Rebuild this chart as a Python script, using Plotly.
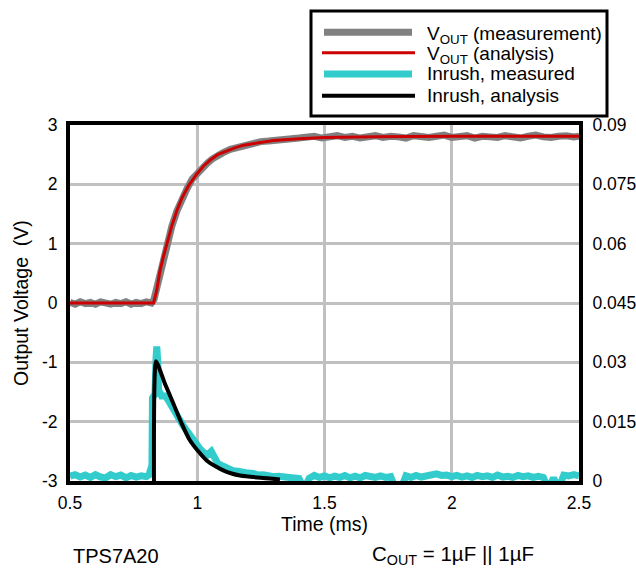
import plotly.graph_objects as go

# ---------------- data ----------------
# Output voltage, measurement (V) vs time (ms)
t_vmeas = [0.50, 0.52, 0.54, 0.56, 0.58, 0.60, 0.62, 0.64, 0.66, 0.68, 0.70, 0.72, 0.74, 0.76, 0.78, 0.80, 0.82,
           0.83, 0.84, 0.85, 0.86, 0.87, 0.88, 0.89, 0.90, 0.92, 0.94, 0.96, 0.98, 1.00, 1.02, 1.04, 1.06, 1.08, 1.10,
           1.13, 1.16, 1.19, 1.22, 1.25, 1.28, 1.31, 1.34, 1.37, 1.40,
           1.43, 1.46, 1.49, 1.52, 1.55, 1.58, 1.61, 1.64, 1.67, 1.70, 1.73, 1.76, 1.79, 1.82, 1.85, 1.88, 1.91, 1.94,
           1.97, 2.00, 2.03, 2.06, 2.09, 2.12, 2.15, 2.18, 2.21, 2.24, 2.27, 2.30, 2.33, 2.36, 2.39, 2.42, 2.45, 2.48, 2.50]
v_meas = [0.01, -0.02, 0.02, -0.01, 0.01, -0.02, 0.02, 0.00, -0.02, 0.01, -0.01, 0.02, -0.02, 0.01, -0.01, 0.02, 0.00,
          0.06, 0.24, 0.47, 0.66, 0.84, 0.98, 1.13, 1.29, 1.55, 1.78, 1.93, 2.09, 2.19, 2.29, 2.36, 2.43, 2.49, 2.53,
          2.59, 2.63, 2.67, 2.69, 2.72, 2.73, 2.75, 2.76, 2.77, 2.78,
          2.79, 2.81, 2.78, 2.80, 2.82, 2.79, 2.81, 2.78, 2.80, 2.82, 2.79, 2.81, 2.80, 2.78, 2.82, 2.80, 2.79, 2.81,
          2.83, 2.79, 2.80, 2.82, 2.78, 2.81, 2.80, 2.79, 2.82, 2.80, 2.78, 2.81, 2.83, 2.80, 2.79, 2.81, 2.82, 2.80, 2.81]

# Output voltage, analysis (V)
t_vana = [0.50, 0.828, 0.84, 0.854, 0.868, 0.881, 0.90, 0.92, 0.94, 0.966, 0.999, 1.025, 1.051, 1.08, 1.117,
          1.15, 1.182, 1.248, 1.30, 1.40, 1.50, 1.70, 2.00, 2.50]
v_ana = [0.0, 0.0, 0.20, 0.55, 0.80, 1.00, 1.30, 1.56, 1.77, 1.98, 2.18, 2.31, 2.41, 2.50, 2.57,
         2.62, 2.66, 2.71, 2.74, 2.77, 2.79, 2.80, 2.81, 2.81]

# Inrush current, measured (A)
t_imeas = [0.50, 0.52, 0.54, 0.56, 0.58, 0.60, 0.62, 0.64, 0.66, 0.68, 0.70, 0.72, 0.74, 0.76, 0.78, 0.80,
           0.81, 0.816, 0.822, 0.824, 0.834, 0.838, 0.841, 0.845, 0.848, 0.86, 0.875, 0.89, 0.905, 0.92, 0.935,
           0.95, 0.965, 0.98, 0.995, 1.01, 1.025, 1.04, 1.055, 1.065, 1.08, 1.10, 1.12, 1.14, 1.16, 1.18, 1.20,
           1.22, 1.24, 1.26, 1.28, 1.30, 1.32, 1.34, 1.36, 1.38, 1.40, 1.42, 1.44,
           1.46, 1.48, 1.50, 1.52, 1.54, 1.56, 1.58, 1.60, 1.62, 1.64, 1.66, 1.68, 1.70, 1.72, 1.74, 1.76, 1.78,
           1.80, 1.82, 1.84, 1.86, 1.88, 1.90, 1.92, 1.94, 1.96, 1.98, 2.00, 2.02, 2.04, 2.06, 2.08, 2.10, 2.12,
           2.14, 2.16, 2.18, 2.20, 2.22, 2.24, 2.26, 2.28, 2.30, 2.32, 2.34, 2.36, 2.38, 2.40, 2.42, 2.44, 2.46,
           2.48, 2.50]
i_meas = [0.0012, 0.0016, 0.0010, 0.0015, 0.0009, 0.0016, 0.0010, 0.0008, 0.0016, 0.0011, 0.0015, 0.0008,
          0.0014, 0.0010, 0.0013, 0.0011,
          0.0015, 0.0035, 0.0040, 0.0210, 0.0220, 0.0310, 0.0340, 0.0300, 0.0230, 0.0215, 0.0215, 0.0200, 0.0180,
          0.0165, 0.0150, 0.0135, 0.0120, 0.0105, 0.0093, 0.0082, 0.0072, 0.0066, 0.0075, 0.0062, 0.0045, 0.0038,
          0.0030, 0.0026, 0.0025, 0.0021, 0.0020, 0.0019, 0.0015, 0.0016, 0.0013, 0.0011, 0.0012, 0.0010, 0.0008,
          0.0010, 0.0006, -0.0020, 0.0007,
          0.0014, 0.0009, 0.0013, 0.0008, 0.0012, 0.0009, 0.0014, 0.0008, 0.0012, 0.0008, 0.0014, 0.0010, 0.0009,
          0.0013, 0.0009, 0.0011, -0.0020, -0.0020, 0.0013, 0.0009, 0.0014, 0.0010, 0.0012, 0.0015, 0.0018,
          0.0014, 0.0015, 0.0011, 0.0014, 0.0010, 0.0013, 0.0009, 0.0014, 0.0011, 0.0013, 0.0009, 0.0015, 0.0010,
          0.0012, 0.0009, 0.0014, 0.0011, 0.0013, 0.0009, 0.0012, 0.0009, -0.0020, 0.0008, -0.0020, 0.0015,
          0.0013, 0.0016, 0.0013]

# Inrush current, analysis (A)
t_iana = [0.830, 0.838, 0.873, 0.906, 0.939, 0.971, 1.004, 1.037, 1.070, 1.102, 1.135, 1.168, 1.25, 1.325]
i_ana = [0.0, 0.0303, 0.0246, 0.0196, 0.0145, 0.0103, 0.0075, 0.0052, 0.0038, 0.0027, 0.0019, 0.0014, 0.0008, 0.0004]

x_ticks = [0.5, 1, 1.5, 2, 2.5]
x_ticktext = ["0.5", "1", "1.5", "2", "2.5"]
yl_ticks = [-3, -2, -1, 0, 1, 2, 3]
yl_ticktext = ["-3", "-2", "-1", "0", "1", "2", "3"]
yr_ticks = [0, 0.015, 0.03, 0.045, 0.06, 0.075, 0.09]
yr_ticktext = ["0", "0.015", "0.03", "0.045", "0.06", "0.075", "0.09"]

legend_names = ["V<sub>OUT</sub> (measurement)", "V<sub>OUT</sub> (analysis)",
                "Inrush, measured", "Inrush, analysis"]

# ---------------- styles ----------------
FONT = "Liberation Sans, Arial, sans-serif"
C_GRAY = "#808080"
C_RED = "#cc0000"
C_CYAN = "#33cccc"
C_BLACK = "#000000"
styles = [(C_GRAY, 7), (C_RED, 3), (C_CYAN, 7), (C_BLACK, 4)]

fig = go.Figure()
fig.add_trace(go.Scatter(x=t_vmeas, y=v_meas, mode="lines", line=dict(color=C_GRAY, width=7),
                         yaxis="y", showlegend=False))
fig.add_trace(go.Scatter(x=t_vana, y=v_ana, mode="lines", line=dict(color=C_RED, width=3),
                         yaxis="y", showlegend=False))
fig.add_trace(go.Scatter(x=t_imeas, y=i_meas, mode="lines", line=dict(color=C_CYAN, width=7),
                         yaxis="y2", showlegend=False))
fig.add_trace(go.Scatter(x=t_iana, y=i_ana, mode="lines", line=dict(color=C_BLACK, width=4, shape="spline", smoothing=0.5),
                         yaxis="y2", showlegend=False))

axis_common = dict(showline=True, linecolor="black", linewidth=4, ticks="", automargin=False,
                   tickfont=dict(family=FONT, size=17.5, color="black"), zeroline=False)

fig.update_layout(
    width=636, height=569,
    margin=dict(l=70, r=57, t=125, b=88, autoexpand=False),
    paper_bgcolor="white", plot_bgcolor="white",
    showlegend=False,
    xaxis=dict(range=[0.5, 2.5], tickvals=x_ticks, ticktext=x_ticktext, showgrid=True,
               gridcolor="#c0c0c0", gridwidth=2.5, mirror=True, ticklabelstandoff=3, **axis_common),
    yaxis=dict(range=[-3, 3], tickvals=yl_ticks, ticktext=yl_ticktext, showgrid=True,
               gridcolor="#c0c0c0", gridwidth=2.5, mirror=False, ticklabelstandoff=5, **axis_common),
    yaxis2=dict(range=[0, 0.09], tickvals=yr_ticks, ticktext=yr_ticktext, overlaying="y", side="right",
                showgrid=False, ticklabelstandoff=6, **axis_common),
)

def px(x):
    return (x - 70) / 509.0

def py(y):
    return (481 - y) / 356.0

annos = [
    dict(text="Output Voltage\u00a0\u00a0(V)", x=px(21), y=0.5, textangle=-90, font=dict(size=19.5)),
    dict(text="Time (ms)", x=px(324), y=py(523.5), font=dict(size=19.5)),
    dict(text="TPS7A20", x=px(71), y=py(556), xanchor="left", font=dict(size=20)),
    dict(text="C<sub>OUT</sub> = 1µF || 1µF", x=px(370), y=py(555), xanchor="left", font=dict(size=20.5)),
]
for a in annos:
    a.setdefault("xanchor", "center")
    a["font"] = dict(family=FONT, color="black", size=a["font"]["size"])
    fig.add_annotation(xref="paper", yref="paper", yanchor="middle", showarrow=False, **a)

# manual legend box
fig.add_shape(type="rect", xref="paper", yref="paper", x0=px(311), x1=px(607), y0=py(116), y1=py(11),
              line=dict(color="black", width=3), fillcolor="white", layer="above")
row_y = [32.3, 52.7, 74.0, 95.7]
for name, (col, w), ry in zip(legend_names, styles, row_y):
    x0, x1 = (324, 412) if w > 5 else (322, 415)
    fig.add_shape(type="line", xref="paper", yref="paper", x0=px(x0), x1=px(x1), y0=py(ry), y1=py(ry),
                  line=dict(color=col, width=w), layer="above")
    ty = ry + 2.5 if "<sub>" in name else ry
    fig.add_annotation(xref="paper", yref="paper", x=px(425), y=py(ty), xanchor="left", yanchor="middle",
                       text=name, showarrow=False, font=dict(family=FONT, size=19, color="black"))

fig.write_html("out.html")
